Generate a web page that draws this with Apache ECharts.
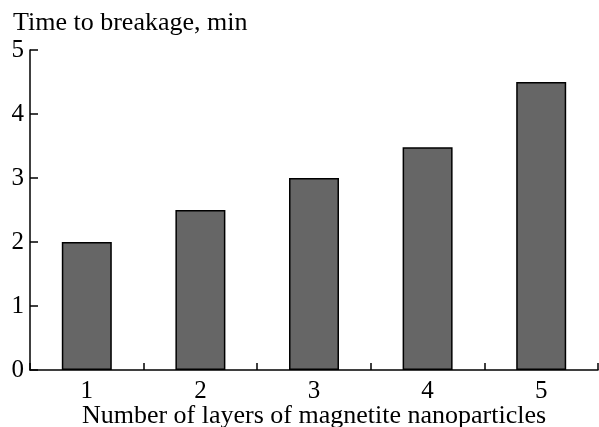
<!DOCTYPE html>
<html><head><meta charset="utf-8">
<script src="https://cdn.jsdelivr.net/npm/echarts@6/dist/echarts.min.js"></script>
<style>html,body{margin:0;padding:0;background:#fff}#c{width:599px;height:427px}</style>
</head><body><div id="c"></div>
<script>
const categories = ['1', '2', '3', '4', '5'];
const timeToBreakage = [2.0, 2.5, 3.0, 3.48, 4.5];
const yTicks = [0, 1, 2, 3, 4, 5];
const yTitle = 'Time to breakage, min';
const xTitle = 'Number of layers of magnetite nanoparticles';

const FONT = 'Liberation Serif';
const chart = echarts.init(document.getElementById('c'), null, {renderer: 'canvas'});
chart.setOption({
  animation: false,
  backgroundColor: '#fff',
  title: {
    text: yTitle, left: 8, top: 5,
    textStyle: {fontFamily: FONT, fontSize: 26, fontWeight: 'normal', color: '#000'}
  },
  grid: {left: 30, right: 1, top: 50, bottom: 57, containLabel: false, outerBoundsMode: 'none'},
  xAxis: {
    type: 'category', data: categories,
    name: xTitle, nameLocation: 'middle', nameGap: 33, nameMoveOverlap: false,
    nameTextStyle: {fontFamily: FONT, fontSize: 26, color: '#000', verticalAlign: 'top'},
    axisLine: {lineStyle: {color: '#000', width: 1.5}},
    axisTick: {show: true, inside: true, length: 7, alignWithLabel: false, lineStyle: {color: '#000', width: 1.5}},
    axisLabel: {fontFamily: FONT, fontSize: 25, color: '#000', margin: 9}
  },
  yAxis: {
    type: 'value', min: yTicks[0], max: yTicks[yTicks.length - 1], interval: 1,
    axisLine: {show: true, lineStyle: {color: '#000', width: 1.5}},
    axisTick: {show: true, inside: true, length: 8, lineStyle: {color: '#000', width: 1.5}},
    axisLabel: {fontFamily: FONT, fontSize: 25, color: '#000', margin: 6},
    splitLine: {show: false}
  },
  series: [{
    type: 'bar', data: timeToBreakage, barWidth: '44%',
    itemStyle: {color: '#666666', borderColor: '#000', borderWidth: 1.5}
  }]
});
</script></body></html>
